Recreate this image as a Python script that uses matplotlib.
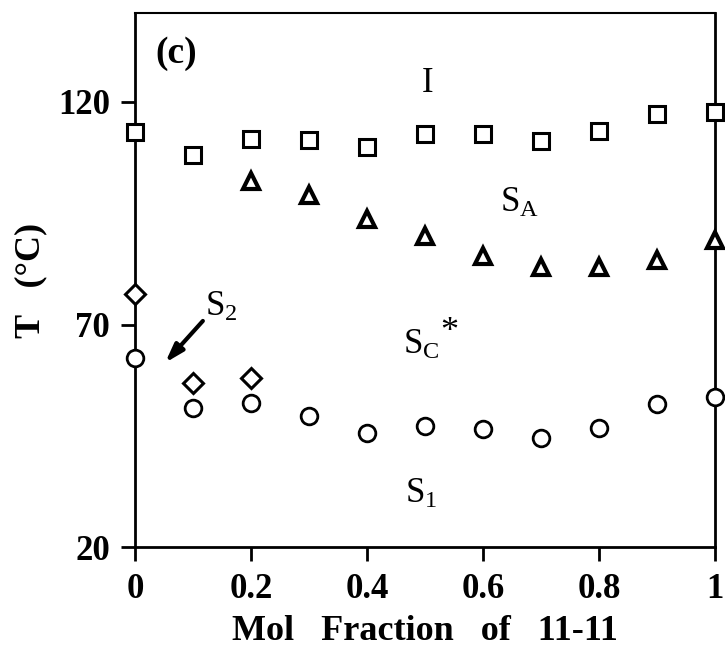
import matplotlib
matplotlib.use('Agg')
import matplotlib.pyplot as plt

# 相图数据 (Mol Fraction of 11-11 vs T)
x_all = [0, 0.1, 0.2, 0.3, 0.4, 0.5, 0.6, 0.7, 0.8, 0.9, 1.0]
t_iso = [113.3, 108.1, 111.7, 111.5, 109.9, 112.8, 112.8, 111.3, 113.5, 117.3, 117.8]
x_sa = [0.2, 0.3, 0.4, 0.5, 0.6, 0.7, 0.8, 0.9, 1.0]
t_sa = [102.3, 99.0, 93.6, 90.0, 85.3, 82.9, 82.9, 84.4, 88.9]
t_s1 = [62.5, 51.3, 52.4, 49.5, 45.7, 47.3, 46.6, 44.4, 46.8, 52.2, 53.6]
x_s2 = [0, 0.1, 0.2]
t_s2 = [76.8, 56.9, 58.0]

x_ticks = [0, 0.2, 0.4, 0.6, 0.8, 1]
x_ticklabels = ['0', '0.2', '0.4', '0.6', '0.8', '1']
y_ticks = [20, 70, 120]

plt.rcParams['font.family'] = ['Liberation Serif', 'DejaVu Serif']
plt.rcParams['mathtext.fontset'] = 'custom'
plt.rcParams['mathtext.rm'] = 'Liberation Serif'
plt.rcParams['mathtext.it'] = 'Liberation Serif'

fig = plt.figure(figsize=(7.25, 6.56), dpi=100)
ax = fig.add_axes([135 / 725, 1 - 547 / 656, 580 / 725, 534 / 656])

style = dict(linestyle='none', color='black', markerfacecolor='white', clip_on=False, zorder=5)
ax.plot(x_all, t_iso, marker='s', markersize=12, markeredgewidth=2.2, **style)
ax.plot(x_sa, t_sa, marker='^', markersize=11, markeredgewidth=3.0, **style)
ax.plot(x_all, t_s1, marker='o', markersize=12, markeredgewidth=2.0, **style)
ax.plot(x_s2, t_s2, marker='D', markersize=10, markeredgewidth=2.2, **style)

ax.set_xlim(0, 1)
ax.set_ylim(20, 140)
ax.set_xticks(x_ticks)
ax.set_xticklabels(x_ticklabels)
ax.set_yticks(y_ticks)
ax.tick_params(direction='out', length=10, width=2, labelsize=25)
ax.tick_params(axis='x', pad=9)
ax.tick_params(axis='y', pad=8)
for lab in ax.get_xticklabels() + ax.get_yticklabels():
    lab.set_fontweight('bold')
for sp in ax.spines.values():
    sp.set_linewidth(2)
ax.spines['top'].set_linewidth(1.5)

ax.set_xlabel('Mol   Fraction   of   11-11', fontsize=26, fontweight='bold', labelpad=6)
ax.set_ylabel('T   (°C)', fontsize=26, fontweight='bold', labelpad=8)

# 区域标注
ax.text(0.071, 131, '(c)', fontsize=27, fontweight='bold', ha='center', va='center')
ax.text(0.505, 122.2, 'I', fontsize=25, ha='center', va='baseline')
ax.text(0.629, 95.4, r'S$_\mathrm{A}$', fontsize=25, ha='left', va='baseline')
ax.text(0.462, 63.4, r'S$_\mathrm{C}$', fontsize=25, ha='left', va='baseline')
ax.text(0.527, 66.2, '*', fontsize=26, ha='left', va='baseline')
ax.text(0.121, 71.9, r'S$_2$', fontsize=25, ha='left', va='baseline')
ax.text(0.466, 29.8, r'S$_1$', fontsize=25, ha='left', va='baseline')
ax.annotate('', xy=(0.052, 61.4), xytext=(0.117, 70.8),
            arrowprops=dict(arrowstyle='-|>,head_length=1.1,head_width=0.35',
                            color='black', lw=3, shrinkA=0, shrinkB=0))

fig.savefig('out.png', dpi=100)
plt.close()
